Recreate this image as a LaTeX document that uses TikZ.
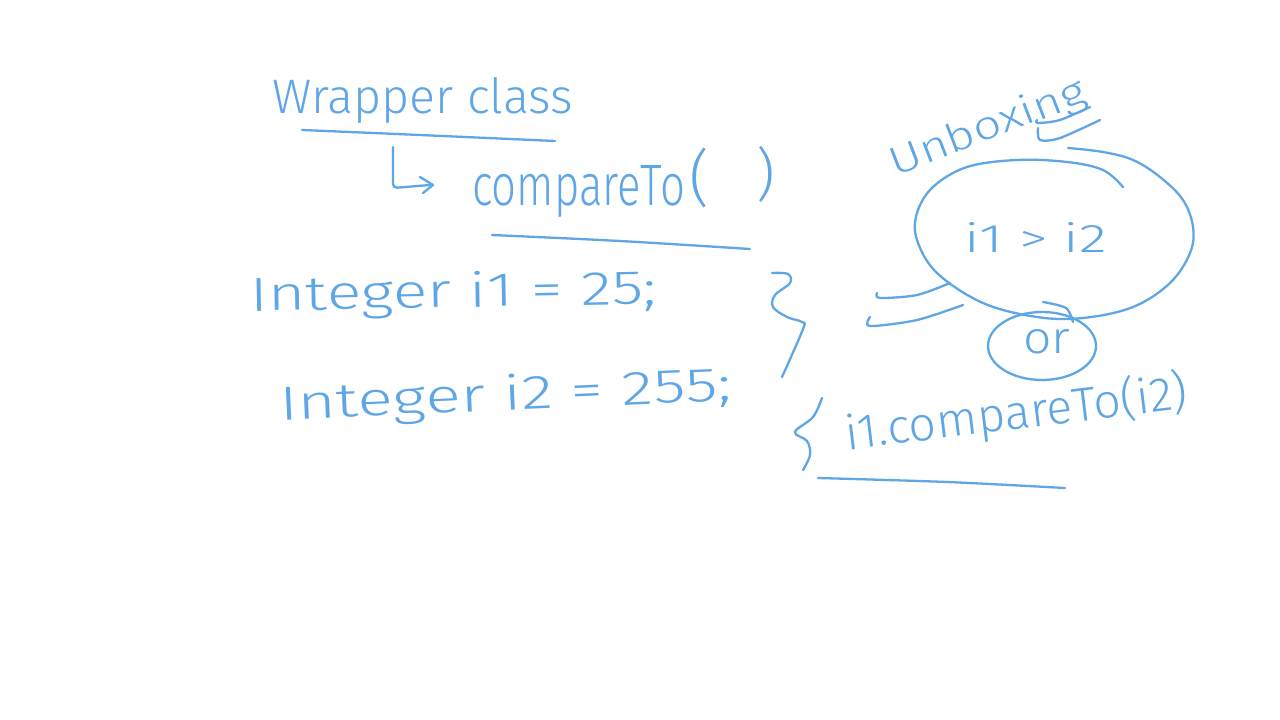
\documentclass[tikz,border=0pt]{standalone}
\usepackage{fontspec}
\setmainfont{Fira Sans}[UprightFont = * Light]
\usepackage{graphicx}
\definecolor{ink}{RGB}{94,166,230}
\tikzset{
  pen/.style={draw=ink,line width=2.3pt,line cap=round,line join=round},
  hand/.style={text=ink,inner sep=0pt,outer sep=0pt},
}
\begin{document}
\begin{tikzpicture}[x=1pt,y=-1pt]
\useasboundingbox (0,0) rectangle (1280,720);
\fill[white] (0,0) rectangle (1280,720);

% --- Wrapper class ---
\node[hand,anchor=base west] (wrap) at (272,113) {\resizebox{301pt}{36pt}{Wrapper class}};
\draw[pen] plot[smooth] coordinates {(302,130) (420,135) (555,141)};

% arrow to compareTo
\coordinate (a0) at (393,147);
\coordinate (a1) at (393,188);
\coordinate (a2) at (430,185);
\draw[pen,rounded corners=4pt] (a0) -- (a1) -- (a2);
\draw[pen] (420,177) -- (433,185) -- (423,193);

% --- compareTo( ) ---
\node[hand,anchor=base west] (comp) at (472,205) {\resizebox{213pt}{40pt}{compareTo}};
\node[hand] (lp) at (699,178) {\resizebox*{!}{60pt}{(}};
\node[hand] (rp) at (766,174) {\resizebox*{!}{56pt}{)}};
\draw[pen] plot[smooth] coordinates {(492,235) (620,241) (750,249)};

% --- Integer lines ---
\node[hand,anchor=base west,rotate=1] (int1) at (250,311) {\resizebox{407pt}{36pt}{Integer i1 = 25;}};
\node[hand,anchor=base west,rotate=2.5] (int2) at (280,420) {\resizebox{452pt}{36pt}{Integer i2 = 255;}};

% right brace
\draw[pen] plot[smooth,tension=0.6] coordinates {(772,273) (788,274) (790,283) (775,295) (773,307) (787,317) (802,322) (803,329) (782,377)};

% --- Unboxing ---
\node[hand,anchor=base west,rotate=21] (unbox) at (895,176) {\resizebox{207pt}{30pt}{Unboxing}};
\draw[pen] plot[smooth] coordinates {(1037,120) (1038,123) (1060,120) (1090,107)};
\draw[pen] plot[smooth] coordinates {(1038,128) (1040,140) (1060,138) (1100,120)};

% big ellipse
\draw[pen] plot[smooth,tension=0.6] coordinates {(1123,187) (1103,170) (1067,162) (1017,160) (967,167) (933,187) (917,213) (917,240) (937,273) (983,303) (1037,317) (1083,318) (1133,307) (1170,283) (1190,253) (1193,227) (1183,200) (1160,177) (1133,160) (1103,152) (1068,148)};
\node[hand,anchor=base west] (cmp) at (964,252) {\resizebox{143pt}{30pt}{i1 > i2}};

% strokes left of ellipse
\draw[pen] plot[smooth] coordinates {(877,293) (880,298) (917,295) (950,283)};
\draw[pen] plot[smooth] coordinates {(870,317) (870,326) (917,320) (963,305)};

% or circle
\draw[pen] (1042,346) ellipse [x radius=54, y radius=34];
\draw[pen] plot[smooth] coordinates {(1043,302) (1066,308) (1073,322)};
\node[hand,anchor=base west] (or) at (1023,353) {\resizebox{47pt}{24pt}{or}};

% left brace
\draw[pen] plot[smooth,tension=0.6] coordinates {(822,398) (813,417) (795,432) (807,441) (810,455) (803,470)};

% i1.compareTo(i2)
\node[hand,anchor=base west,rotate=7] (call) at (847,450) {\resizebox{345pt}{40pt}{i1.compareTo(i2)}};
\draw[pen] plot[smooth] coordinates {(818,478) (947,482) (1065,488)};
\end{tikzpicture}
\end{document}
